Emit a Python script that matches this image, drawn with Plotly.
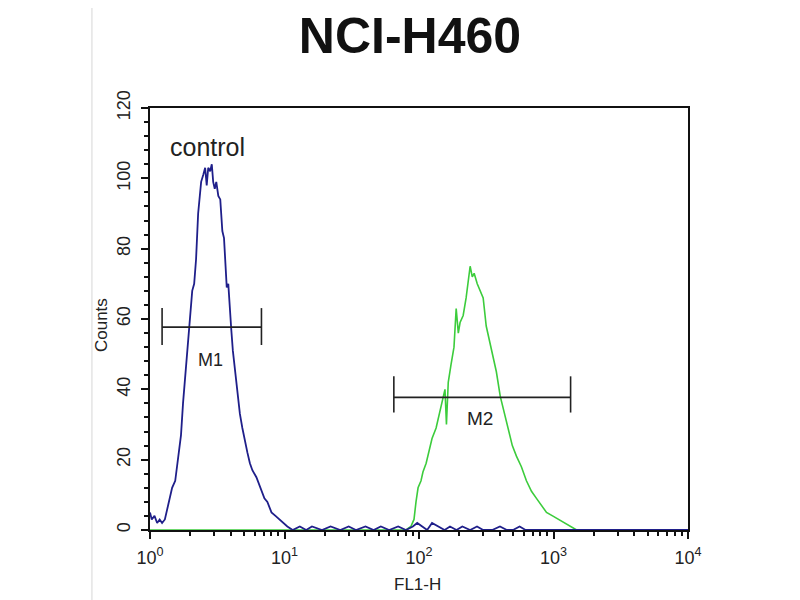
import plotly.graph_objects as go

# ---------------- data ----------------
control_fl = [1.0, 1.03, 1.08, 1.13, 1.18, 1.23, 1.29, 1.36, 1.46, 1.54, 1.62, 1.70, 1.76, 1.83,
              1.89, 1.95, 2.06, 2.13, 2.20, 2.28, 2.40, 2.49, 2.57, 2.64, 2.71, 2.80, 2.88, 2.95,
              3.03, 3.11, 3.22, 3.33, 3.45, 3.55, 3.63, 3.72, 3.82, 3.92, 4.02, 4.13, 4.24, 4.35,
              4.46, 4.66, 4.86, 5.08, 5.30, 5.53, 5.77, 6.18, 6.62, 7.09, 7.46, 8.00, 8.57, 9.18,
              9.84, 10.5, 11.5, 13.0, 14.5, 16.0, 19.0, 22.0, 26.0, 30.0, 34.0, 40.0, 46.0, 52.0,
              60.0, 70.0, 80.0, 90.0, 97.0, 105.0, 115.0, 125.0, 140.0, 155.0, 170.0, 190.0,
              210.0, 240.0, 270.0, 300.0, 350.0, 400.0, 450.0, 500.0, 560.0, 620.0, 1000.0, 10000.0]
control_counts = [5, 3, 4, 2, 3, 2, 3, 7, 12, 14, 20, 27, 36, 44,
                  49, 58, 68, 70, 77, 90, 99, 101, 103, 98, 103, 102, 104, 99,
                  97, 99, 95, 94, 85, 83, 77, 69, 70, 62, 57, 51, 47, 42,
                  39, 33, 29, 25, 22, 19, 17, 15, 12, 9, 8, 5, 4, 3,
                  2, 1, 0, 1, 0, 1, 0, 1, 0, 1, 0, 1, 0, 1,
                  0, 1, 0, 1, 2, 1, 0, 2, 1, 0, 1, 0,
                  1, 0, 1, 0, 0, 1, 0, 0, 1, 0, 0, 0]

sample_fl = [1.0, 80, 87, 91.8, 95, 98.4, 103.5, 107, 113, 119, 125, 134, 141, 149, 156, 160,
             165, 173, 182, 189, 196, 202, 213, 224, 232, 240, 249, 257, 271, 285, 300, 316,
             333, 351, 376, 402, 431, 462, 494, 530, 577, 629, 686, 747, 813, 887, 984, 1090,
             1208, 1340, 1486, 10000]
sample_counts = [0, 0, 1, 3, 8, 12, 14, 16.5, 19, 23, 26, 29, 33, 36.5, 40, 30,
                 42, 47, 52, 63, 56, 59, 61, 66, 71, 75, 72, 73, 70, 68, 66, 58,
                 54, 50, 45, 38, 33, 28, 24, 21, 18, 14, 11, 9, 7, 5, 4, 3,
                 2, 1, 0, 0]

# gate markers: [low FL, high FL], level, cap extent
m1_range = [1.23, 6.74]
m1_level = 57.7
m1_caps = [52.6, 63.1]
m2_range = [65.0, 1340.0]
m2_level = 37.7
m2_caps = [33.4, 43.7]

y_ticks = [0, 20, 40, 60, 80, 100, 120]
x_ticks = [1, 10, 100, 1000, 10000]
x_tick_labels = ["10<sup>0</sup>", "10<sup>1</sup>", "10<sup>2</sup>", "10<sup>3</sup>", "10<sup>4</sup>"]

blue = "#1f1f8a"
green = "#3ccc3c"
black = "#111111"
font = "Liberation Sans, Arial, sans-serif"

fig = go.Figure()

fig.add_trace(go.Scatter(x=sample_fl, y=sample_counts, mode="lines",
                         line=dict(color=green, width=1.6), hoverinfo="skip"))
fig.add_trace(go.Scatter(x=control_fl, y=control_counts, mode="lines",
                         line=dict(color=blue, width=1.8), hoverinfo="skip"))


def gate(rng, level, caps):
    xs = [rng[0], rng[1], None, rng[0], rng[0], None, rng[1], rng[1]]
    ys = [level, level, None, caps[0], caps[1], None, caps[0], caps[1]]
    fig.add_trace(go.Scatter(x=xs, y=ys, mode="lines",
                             line=dict(color="#222222", width=1.6), hoverinfo="skip"))


gate(m1_range, m1_level, m1_caps)
gate(m2_range, m2_level, m2_caps)

annotations = [
    dict(x=0.425, y=108.9, xref="x", yref="y", text="control", showarrow=False,
         xanchor="center", yanchor="middle",
         font=dict(family=font, size=25, color="#222222")),
    dict(x=0.448, y=48.3, xref="x", yref="y", text="M1", showarrow=False,
         xanchor="center", yanchor="middle",
         font=dict(family=font, size=18, color="#222222")),
    dict(x=2.455, y=31.8, xref="x", yref="y", text="M2", showarrow=False,
         xanchor="center", yanchor="middle",
         font=dict(family=font, size=19, color="#222222")),
    dict(x=0.498, y=-0.130, xref="paper", yref="paper", text="FL1-H", showarrow=False,
         xanchor="center", yanchor="middle",
         font=dict(family=font, size=17, color="#222222")),
    dict(x=-0.089, y=0.486, xref="paper", yref="paper", text="Counts", showarrow=False,
         xanchor="center", yanchor="middle",
         textangle=-90, font=dict(family=font, size=17, color="#222222")),
]

fig.update_layout(
    width=800, height=600, autosize=False,
    margin=dict(l=142, r=120, t=100, b=78, pad=0),
    paper_bgcolor="white", plot_bgcolor="white",
    showlegend=False,
    title=dict(text="<b>NCI-H460</b>", x=0.5025, xref="container", y=1 - 27 / 600,
               yref="container", xanchor="center", yanchor="middle",
               font=dict(family=font, size=50, color="#111111")),
    annotations=annotations,
    shapes=[dict(type="line", xref="paper", yref="paper", x0=-0.108, x1=-0.108,
                 y0=-0.2, y1=1.3, line=dict(color="#e4e4e4", width=1.5))],
)

fig.update_xaxes(type="log", range=[0, 4], tickvals=x_ticks, ticktext=x_tick_labels,
                 showgrid=False, zeroline=False, showline=True, linecolor=black, linewidth=2,
                 mirror=True, ticks="outside", ticklen=7, tickwidth=1.5, tickcolor=black,
                 ticklabelstandoff=3,
                 tickfont=dict(family=font, size=18, color="#222222"),
                 minor=dict(ticks="outside", ticklen=4, tickwidth=1.5, tickcolor=black,
                            tickvals=[m * d for d in [1, 10, 100, 1000] for m in range(2, 10)]))

fig.update_yaxes(range=[0, 120], tickvals=y_ticks, showgrid=False, zeroline=False,
                 showline=True, linecolor=black, linewidth=2, mirror=True,
                 ticks="outside", ticklen=7, tickwidth=1.5, tickcolor=black, tickangle=-90,
                 ticklabelstandoff=4,
                 tickfont=dict(family=font, size=18, color="#222222"),
                 minor=dict(ticks="outside", ticklen=4, tickwidth=1.5, tickcolor=black, dtick=4))

fig.write_html("out.html")
